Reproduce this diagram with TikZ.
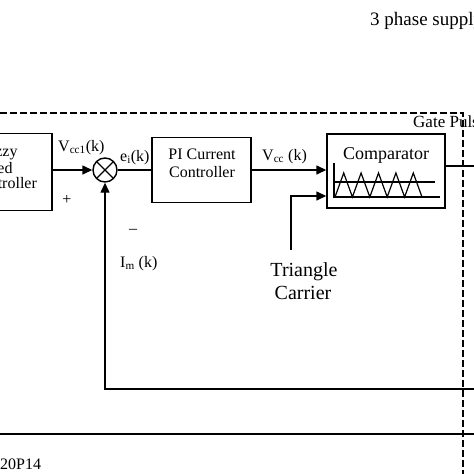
\documentclass[tikz,border=0pt]{standalone}
\usepackage{fontspec}
\setmainfont{Liberation Serif}
\usetikzlibrary{arrows.meta,calc}
\tikzset{
  ln/.style={line width=1.4pt},
  arr/.style={ln,-{Triangle[length=10pt,width=9pt]}},
  blockbox/.style={draw,ln,rectangle,inner sep=0pt},
  sumnode/.style={draw,ln,circle,minimum size=24pt,inner sep=0pt},
  dsh/.style={line width=1.5pt,dash pattern=on 6.5pt off 3.5pt},
  txt/.style={inner sep=0pt,anchor=base west,font=\fontsize{16}{19}\selectfont},
  ctxt/.style={inner sep=0pt,anchor=base,font=\fontsize{16}{19}\selectfont},
  wave/.style={line width=1.2pt,line join=miter}
}
\begin{document}
\begin{tikzpicture}[x=1pt,y=-1pt]
\useasboundingbox (0,0) rectangle (474,474);
\clip (0,0) rectangle (474,474);
% blocks
\node[blockbox,minimum width=102pt,minimum height=77pt] (fuzzy) at (1,172) {};
\node[ctxt] (fz1) at (-2,156) {Fuzzy};
\node[ctxt] (fz2) at (-7,173) {Based};
\node[ctxt] (fz3) at (4,188) {Controller};
\node[sumnode] (sum) at (105,170) {};
\draw[ln] ($(sum.center)+(-8.5,-8.5)$) -- ($(sum.center)+(8.5,8.5)$);
\draw[ln] ($(sum.center)+(-8.5,8.5)$) -- ($(sum.center)+(8.5,-8.5)$);
\node[blockbox,minimum width=99pt,minimum height=65pt] (pi) at (201.5,170) {};
\node[ctxt] (pi1) at (202,159) {PI Current};
\node[ctxt] (pi2) at (202,177) {Controller};
\node[blockbox,minimum width=118pt,minimum height=74pt] (comp) at (386,171) {};
\node[ctxt,font=\fontsize{18}{21}\selectfont] (comptxt) at (386,159) {Comparator};
% comparator inner graphic
\draw[wave] (334,163) -- (334,197) -- (440,197);
\draw[wave] (334,182) -- (435,182);
\draw[wave] (335,197) -- (343.7,173) -- (352.4,197) -- (361.1,173) -- (369.8,197)
  -- (378.5,173) -- (387.2,197) -- (395.9,173) -- (404.6,197) -- (413.3,173) -- (422,197);
% labels
\node[txt] (lvcc1) at (58,151) {V\textsubscript{cc1}(k)};
\node[txt] (lei) at (120,161) {e\textsubscript{i}(k)};
\node[txt] (lvcc) at (262,160) {V\textsubscript{cc} (k)};
\node[txt] (lim) at (120,267) {I\textsubscript{m} (k)};
\node[inner sep=0pt,anchor=center,font=\fontsize{16}{19}\selectfont] (lplus) at (67,200) {+};
\node[inner sep=0pt,anchor=center,font=\fontsize{16}{19}\selectfont] (lminus) at (133,231) {\textendash};
\node[ctxt,font=\fontsize{20}{23}\selectfont] (tri) at (304,276) {Triangle};
\node[ctxt,font=\fontsize{20}{23}\selectfont] (car) at (303,299) {Carrier};
\node[txt,font=\fontsize{17}{20}\selectfont] (gate) at (413,127) {Gate Pulse};
\node[txt,font=\fontsize{19}{22}\selectfont] (supply) at (370,25) {3 phase supply};
\node[txt] (code) at (0,469) {20P14};
% coordinates
\coordinate (carrtop) at (291,250);
\coordinate (outr) at (474,166);
\coordinate (fb) at (474,389);
\coordinate (bl) at (0,434);
\coordinate (br) at (474,434);
\coordinate (dl) at (0,113);
\coordinate (db) at (463,474);
% connectors
\draw[arr] (fuzzy.east |- sum.west) -- (sum.west);
\draw[ln] (sum.east) -- (sum.east -| pi.west);
\draw[arr] (pi.east) -- (pi.east -| comp.west);
\draw[arr] (carrtop) |- ([yshift=-25pt]comp.west);
\draw[ln] (comp.east |- outr) -- (outr);
\draw[arr] (fb) -| (sum.south);
\draw[ln] (bl) -- (br);
\draw[dsh] (dl) -| (db);
\end{tikzpicture}
\end{document}
